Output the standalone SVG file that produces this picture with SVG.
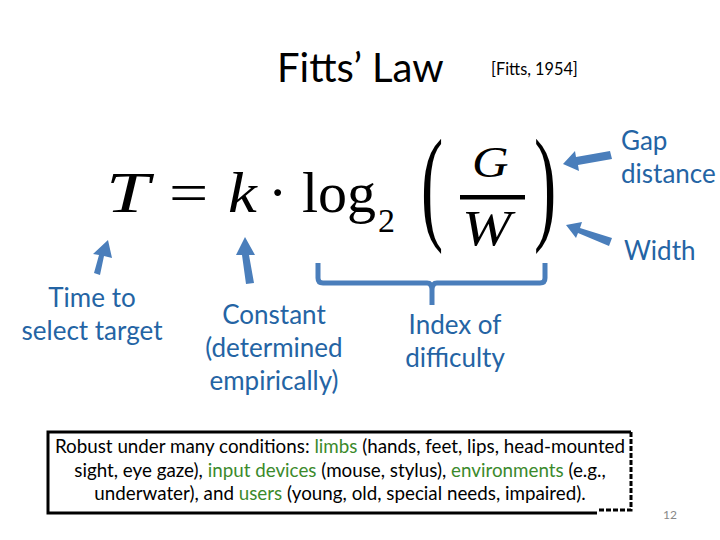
<svg xmlns="http://www.w3.org/2000/svg" width="720" height="540" viewBox="0 0 720 540">
<style>
.lbl{font-family:Lato,"Open Sans",sans-serif;font-size:26px;fill:#2464A4;text-anchor:middle}
.eq{font-family:"Liberation Serif","DejaVu Serif",serif;fill:#000}
.it{font-style:italic}
.box{font-family:Lato,"Open Sans",sans-serif;font-size:18.8px;fill:#000;text-anchor:middle}
.g{fill:#3B8A2C}
.arr{fill:#4A7EBB}
.br{fill:none;stroke:#4A7EBB;stroke-width:5;stroke-linejoin:round}
</style>
<rect width="720" height="540" fill="#fff"/>
<g id="title">
<text x="277" y="82" font-family="Lato,'Open Sans',sans-serif" font-size="40">Fitts’ Law</text>
<text x="491" y="75" font-family="Lato,'Open Sans',sans-serif" font-size="16.3">[Fitts, 1954]</text>
</g>
<g id="equation" class="eq">
<text font-size="58" class="it" transform="translate(106,212) scale(1.35,1)">T</text>
<text font-size="58" transform="translate(169,212) scale(1.2,1)">=</text>
<text font-size="58" class="it" transform="translate(228,212) scale(1.12,1)">k</text>
<text x="268" y="212" font-size="58">·</text>
<text x="302" y="212" font-size="58">log</text>
<text x="378" y="232" font-size="34">2</text>
<text font-size="58" transform="translate(421,227) scale(1.15,2.18)">(</text>
<text font-size="44" class="it" transform="translate(472,177) scale(1.15,1)">G</text>
<rect x="460" y="195" width="65" height="4.5" fill="#000"/>
<text font-size="50" class="it" transform="translate(462,245) scale(1.18,1)">W</text>
<text font-size="58" transform="translate(534,227) scale(1.15,2.18)">)</text>
</g>
<g id="connectors">
<path class="arr" d="M610,151 L576,157 L575,151 L563,164 L579,171 L578,165 L612,159 Z"/>
<path class="arr" d="M612,238 L580,228 L582,222 L566,225 L576,238 L578,233 L609,246 Z"/>
<path class="arr" d="M100,275 L104,256 L112,258 L108,240 L93,254 L99,255 L94,273 Z"/>
<path class="arr" d="M254,283 L249,255 L255,255 L245,237 L236,255 L242,255 L246,284 Z"/>
<path class="br" d="M318,263 V278 Q318,283 323,283 H427 Q432,283 432,290 V305 M432,290 Q432,283 437,283 H540 Q545,283 545,278 V263"/>
</g>
<g id="label-gap" class="lbl" style="text-anchor:start">
<text x="621" y="150">Gap</text>
<text x="621" y="183">distance</text>
</g>
<g id="label-width" class="lbl" style="text-anchor:start">
<text x="624" y="260">Width</text>
</g>
<g id="label-time" class="lbl">
<text x="92" y="307">Time to</text>
<text x="92" y="340">select target</text>
</g>
<g id="label-constant" class="lbl">
<text x="274" y="324">Constant</text>
<text x="274" y="357">(determined</text>
<text x="274" y="390">empirically)</text>
</g>
<g id="label-index" class="lbl">
<text x="455" y="334">Index of</text>
<text x="455" y="367">difficulty</text>
</g>
<g id="robust-box">
<path d="M597,513 H48 V432 H631" fill="none" stroke="#000" stroke-width="3"/>
<path d="M631,432 V510 H597" fill="none" stroke="#000" stroke-width="3" stroke-dasharray="5,2"/>
<text class="box" x="340" y="453">Robust under many conditions: <tspan class="g">limbs</tspan> (hands, feet, lips, head-mounted</text>
<text class="box" x="340" y="477">sight, eye gaze), <tspan class="g">input devices</tspan> (mouse, stylus), <tspan class="g">environments</tspan> (e.g.,</text>
<text class="box" x="340" y="500">underwater), and <tspan class="g">users</tspan> (young, old, special needs, impaired).</text>
</g>
<text id="page" x="663" y="519" font-family="Lato,sans-serif" font-size="12" fill="#888">12</text>
</svg>
